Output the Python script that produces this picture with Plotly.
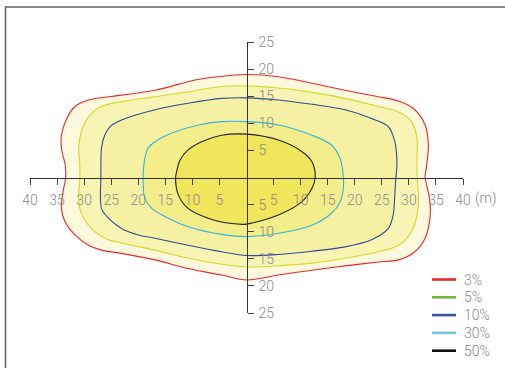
import plotly.graph_objects as go

# ---- data (metres) ----
levels = ["3%", "5%", "10%", "30%", "50%"]

x_3 = [0, -5.3, -9.5, -16.9, -23.1, -29.2, -31.7, -33.2, -34.2, -34.2, -33.5, -33.4, -33.9, -34.2, -33.5, -31.7,
       -29.2, -26.8, -23.1, -16.9, -10.8, -4.6, 0, 5.9, 12.1, 18.2, 24.4, 28.1, 31.1, 33.0, 33.9, 33.9, 33.3,
       33.0, 33.3, 33.6, 33.0, 31.1, 28.1, 24.4, 18.2, 12.1, 5.9]
y_3 = [19.0, 18.6, 18.0, 16.1, 15.2, 14.3, 13.1, 10.9, 7.8, 5.4, 2.3, 0, -2.6, -5.7, -8.2, -10.6,
       -12.5, -13.4, -14.0, -15.2, -16.8, -18.0, -18.9, -18.0, -17.1, -16.3, -15.6, -15.2, -13.7, -11.2, -7.5, -4.5, -1.4,
       0, 2.3, 6.0, 9.7, 12.5, 14.1, 14.9, 16.1, 17.4, 18.6]

x_5 = [0, -4.6, -10.8, -16.9, -23.1, -26.8, -29.2, -30.5, -31.0, -30.8, -30.8, -31.0, -30.8, -29.2, -26.2,
       -23.1, -16.9, -10.8, -4.6, 0, 5.9, 12.1, 18.2, 24.4, 28.1, 30.5, 31.5, 31.8, 31.5, 31.5, 31.5, 30.5,
       28.1, 24.4, 18.2, 12.1, 5.9]
y_5 = [16.9, 16.8, 15.8, 14.9, 14.0, 13.1, 11.2, 8.5, 5.4, 2.3, 0, -3.2, -5.7, -8.8, -11.2,
       -12.1, -13.4, -14.9, -16.0, -16.5, -16.3, -15.8, -14.9, -13.7, -12.5, -10.0, -6.9, -3.2, 0, 3.5, 7.2, 10.3,
       12.1, 13.1, 14.6, 15.7, 16.5]

x_10 = [0, -4.6, -10.8, -16.9, -23.1, -25.2, -26.2, -26.8, -26.9, -26.9, -26.8, -25.5, -23.1, -20.0, -16.9,
        -10.8, -4.6, 0, 5.9, 12.1, 18.2, 23.1, 26.2, 27.1, 27.4, 27.6, 27.8, 27.4, 26.2, 23.1, 18.2, 12.1, 5.9]
y_10 = [14.7, 14.6, 13.7, 12.5, 10.6, 9.4, 7.8, 5.4, 2.3, 0, -5.7, -7.5, -9.4, -10.6, -11.2,
        -12.5, -13.7, -14.4, -14.2, -13.6, -12.8, -11.5, -9.4, -6.9, -3.2, 0, 2.3, 6.6, 9.4, 10.9, 12.5, 13.5, 14.3]

x_30 = [0, -4.6, -8.9, -13.8, -16.9, -18.2, -18.8, -19.1, -18.8, -17.5, -15.1, -10.8, -4.6, 0, 5.9, 12.1,
        15.7, 17.3, 17.9, 17.9, 17.3, 15.7, 12.1, 5.9]
y_30 = [10.3, 10.3, 9.7, 8.2, 6.6, 5.4, 3.5, 0, -3.8, -5.7, -7.2, -9.1, -10.5, -10.9, -10.3, -8.8,
        -6.6, -4.5, -2.0, 0, 3.5, 6.0, 7.8, 9.7]

x_50 = [0, -4.6, -8.3, -10.8, -12.3, -12.9, -13.1, -12.6, -10.8, -7.1, -2.7, 0, 5.9, 10.2, 12.1, 12.7,
        12.1, 10.2, 5.9]
y_50 = [8.0, 7.8, 6.6, 5.1, 3.2, 1.1, 0, -3.2, -5.7, -7.5, -8.5, -8.6, -6.9, -4.5, -2.0, 0,
        2.9, 4.8, 6.9]

contours_x = [x_3, x_5, x_10, x_30, x_50]
contours_y = [y_3, y_5, y_10, y_30, y_50]

x_ticks = [v for v in range(-40, 41, 5) if v != 0]
y_ticks = [v for v in range(-25, 26, 5) if v != 0]

# ---- styles ----
line_colors = ["#e8282e", "#d8d62a", "#2f4a98", "#35b6e0", "#222222"]
fill_colors = ["#fdf9dc", "#f8f4b4", "#f6f1a2", "#f3ed8a", "#efe65c"]
legend_colors = ["#e8282e", "#6dbb3e", "#3a539b", "#6ccadf", "#111111"]
GRAY = "#8a8a8a"
FONT = "Roboto"
TFONT = dict(family=FONT, size=14, color=GRAY, weight=300)

W, H = 505, 368
L, R, T, B = 30, 463, 42, 313  # plot area pixels

fig = go.Figure()
for xs, ys, lc, fc, name in zip(contours_x, contours_y, line_colors, fill_colors, levels):
    fig.add_trace(go.Scatter(
        x=xs + [xs[0]], y=ys + [ys[0]], mode="lines", fill="toself",
        fillcolor=fc, line=dict(color=lc, width=1.1, shape="spline", smoothing=0.9),
        name=name, showlegend=False, hoverinfo="skip"))


def px2paper(px, py):
    return (px - L) / (R - L), (B - py) / (B - T)


shapes = []
# frame
x0, y0 = px2paper(5.5, 7)
x1, y1 = px2paper(530, 390)
shapes.append(dict(type="rect", xref="paper", yref="paper", x0=x0, y0=y1, x1=x1, y1=y0,
                   line=dict(color="#666666", width=1.6), layer="below"))

annotations = []
for i, (lab, col) in enumerate(zip(levels, legend_colors)):
    py = 279.5 + i * 17.8
    ax0, ay = px2paper(432, py)
    ax1, _ = px2paper(456, py)
    shapes.append(dict(type="line", xref="paper", yref="paper", x0=ax0, x1=ax1, y0=ay, y1=ay,
                       line=dict(color=col, width=2.6)))
    tx, _ = px2paper(462, py)
    annotations.append(dict(xref="paper", yref="paper", x=tx, y=ay, text=lab, showarrow=False,
                            xanchor="left", yanchor="middle", font=TFONT))

annotations.append(dict(x=40, y=0, xref="x", yref="y", text="(m)", showarrow=False,
                        xanchor="left", yanchor="middle", xshift=10, yshift=-21, font=TFONT))

fig.update_layout(
    width=W, height=H,
    margin=dict(l=L, r=W - R, t=T, b=H - B, pad=0),
    paper_bgcolor="white", plot_bgcolor="white",
    showlegend=False,
    shapes=shapes, annotations=annotations,
    font=TFONT,
    xaxis=dict(range=[-40, 40], anchor="free", position=0.5, side="bottom",
               showline=True, linecolor="#333333", linewidth=1.4,
               ticks="outside", ticklen=6, tickwidth=1.4, tickcolor="#444444",
               tickvals=x_ticks, ticktext=[str(abs(v)) for v in x_ticks],
               showgrid=False, zeroline=False, fixedrange=True,
               ticklabelstandoff=3, tickfont=TFONT),
    yaxis=dict(range=[-25, 25], anchor="free", position=0.5, side="right",
               showline=True, linecolor="#333333", linewidth=1.4,
               ticks="outside", ticklen=6, tickwidth=1.4, tickcolor="#444444",
               tickvals=y_ticks, ticktext=[str(abs(v)) for v in y_ticks],
               showgrid=False, zeroline=False, fixedrange=True,
               ticklabelstandoff=2, tickfont=TFONT),
)

fig.write_html("out.html")
